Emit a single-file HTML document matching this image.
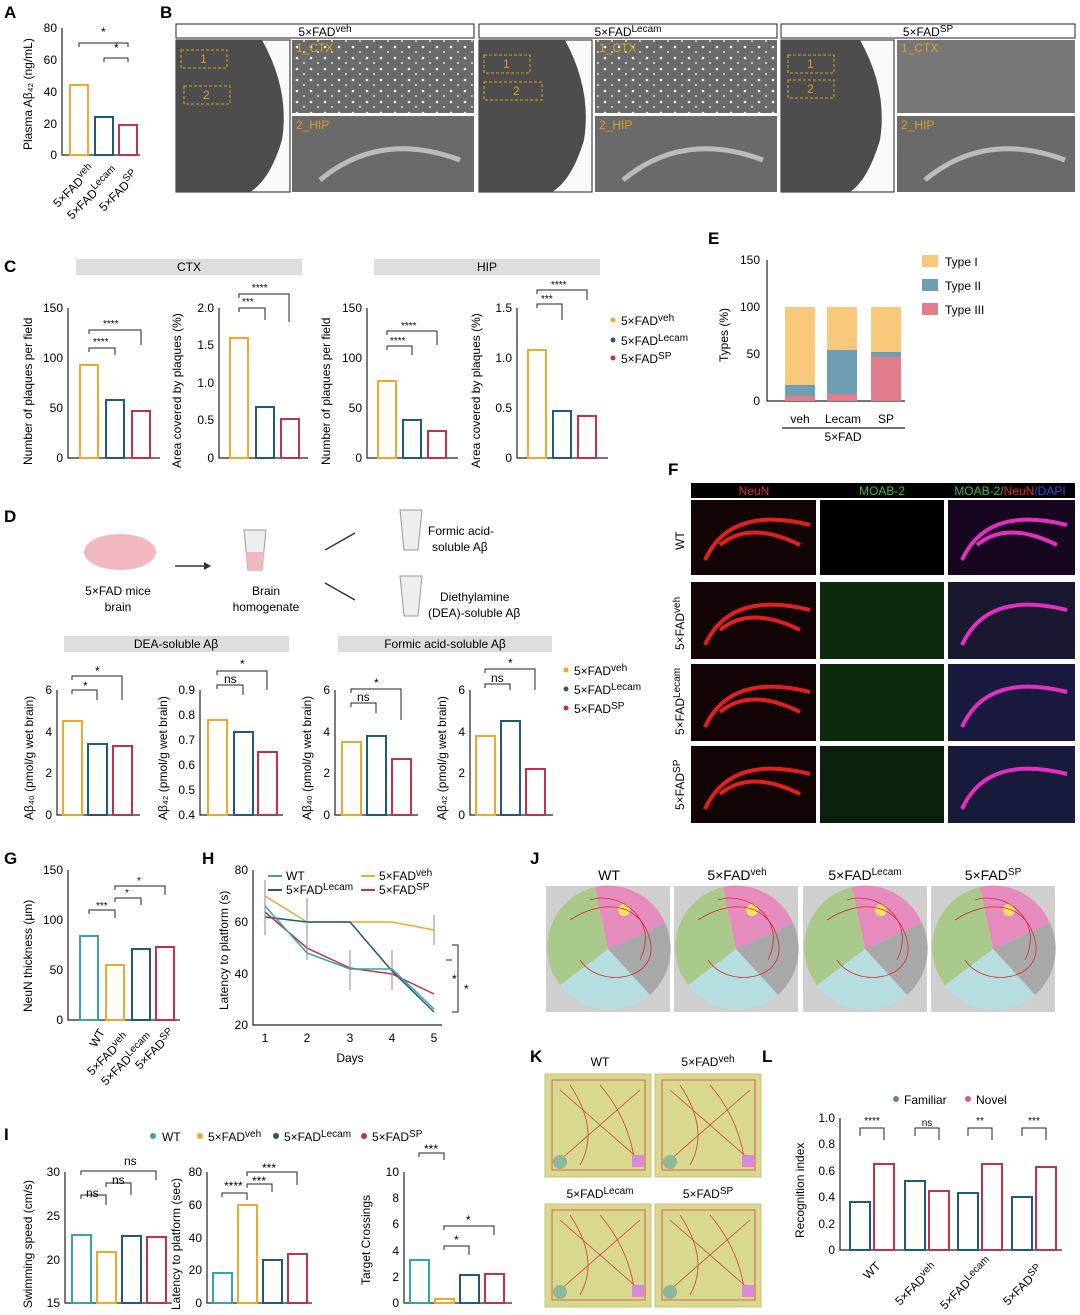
<!DOCTYPE html>
<html><head><meta charset="utf-8"><style>
body{margin:0;background:#fff}
svg{display:block;font-family:"Liberation Sans",sans-serif}
.L{font-size:17px;font-weight:bold}
.t{font-size:12px}
.s{font-size:10px}
.ax{stroke:#222;stroke-width:1.2;fill:none}
.bo{fill:none;stroke:#f0a82c;stroke-width:2}
.bb{fill:none;stroke:#1f5a7a;stroke-width:2}
.br{fill:none;stroke:#c0314a;stroke-width:2}
.bt{fill:none;stroke:#36a3ad;stroke-width:2}
.hd{fill:#ddd}
.mic{fill:#6a6a6a}
.ov{fill:#4d4d4d}
.sig{stroke:#222;fill:none;stroke-width:1}
</style></head><body>
<svg width="1080" height="1315" viewBox="0 0 1080 1315">
<defs><pattern id="dots" width="14" height="11" patternUnits="userSpaceOnUse"><rect width="14" height="11" fill="#6a6a6a"/><circle cx="3" cy="3" r="1.3" fill="#eee"/><circle cx="10" cy="8" r="1" fill="#ddd"/></pattern></defs>
<!-- A -->
<text x="4" y="18" class="L">A</text>
<path class="ax" d="M62 28V155H140"/>
<g class="t" text-anchor="end"><text x="57" y="32">80</text><text x="57" y="64">60</text><text x="57" y="96">40</text><text x="57" y="128">20</text><text x="57" y="159">0</text></g>
<rect class="bo" x="70" y="85" width="18" height="70"/><rect class="bb" x="95" y="117" width="18" height="38"/><rect class="br" x="119" y="125" width="18" height="30"/>
<path class="sig" d="M79 47V43H128V47M104 62V58H128V62"/><text x="101" y="36" class="t">*</text><text x="114" y="52" class="t">*</text>
<text transform="translate(32,150) rotate(-90)" class="t">Plasma Aβ₄₂ (ng/mL)</text>
<g class="t"><text transform="translate(58,208) rotate(-45)">5×FAD<tspan class="s" dy="-5">veh</tspan></text><text transform="translate(72,220) rotate(-45)">5×FAD<tspan class="s" dy="-5">Lecam</tspan></text><text transform="translate(104,212) rotate(-45)">5×FAD<tspan class="s" dy="-5">SP</tspan></text></g>
<!-- B -->
<text x="160" y="18" class="L">B</text>
<g>
<rect x="176" y="24" width="298" height="14" fill="#fff" stroke="#222"/><text x="325" y="36" class="t" text-anchor="middle">5×FAD<tspan class="s" dy="-4">veh</tspan></text>
<rect x="176" y="40" width="114" height="152" fill="#fafafa" stroke="#222"/><path class="ov" d="M176 40H262Q290 90 282 140Q270 180 250 192H176Z"/><rect x="292" y="40" width="182" height="73" fill="url(#dots)"/><rect class="mic" x="292" y="116" width="182" height="76"/>
<rect x="479" y="24" width="298" height="14" fill="#fff" stroke="#222"/><text x="628" y="36" class="t" text-anchor="middle">5×FAD<tspan class="s" dy="-4">Lecam</tspan></text>
<rect x="479" y="40" width="113" height="152" fill="#fafafa" stroke="#222"/><path class="ov" d="M479 40H565Q592 90 584 140Q572 180 552 192H479Z"/><rect x="595" y="40" width="182" height="73" fill="url(#dots)"/><rect class="mic" x="595" y="116" width="182" height="76"/>
<rect x="781" y="24" width="294" height="14" fill="#fff" stroke="#222"/><text x="928" y="36" class="t" text-anchor="middle">5×FAD<tspan class="s" dy="-4">SP</tspan></text>
<rect x="781" y="40" width="113" height="152" fill="#fafafa" stroke="#222"/><path class="ov" d="M781 40H860Q888 90 880 140Q868 180 850 192H781Z"/><rect x="897" y="40" width="178" height="73" fill="#777"/><rect class="mic" x="897" y="116" width="178" height="76" fill="#737373"/>
<g fill="none" stroke="#bbb" stroke-width="5"><path d="M320 180Q380 130 460 160"/><path d="M623 180Q683 130 763 160"/><path d="M925 180Q985 130 1065 160"/></g>
<g fill="none" stroke="#d9a21f" stroke-dasharray="3,2"><rect x="181" y="50" width="46" height="18"/><rect x="184" y="86" width="46" height="18"/><rect x="484" y="55" width="46" height="18"/><rect x="484" y="82" width="58" height="18"/><rect x="788" y="55" width="46" height="18"/><rect x="788" y="80" width="46" height="18"/></g>
<g class="t" fill="#d9a21f"><text x="200" y="63">1</text><text x="203" y="99">2</text><text x="503" y="68">1</text><text x="513" y="95">2</text><text x="807" y="68">1</text><text x="807" y="93">2</text><text x="296" y="52">1_CTX</text><text x="296" y="129">2_HIP</text><text x="599" y="52">1_CTX</text><text x="599" y="129">2_HIP</text><text x="901" y="52">1_CTX</text><text x="901" y="129">2_HIP</text></g>
</g>
<!-- C -->
<text x="4" y="272" class="L">C</text>
<rect class="hd" x="76" y="259" width="226" height="16"/><text x="189" y="271" class="t" text-anchor="middle">CTX</text>
<rect class="hd" x="374" y="259" width="226" height="16"/><text x="487" y="271" class="t" text-anchor="middle">HIP</text>
<path class="ax" d="M68 308V458H160M219 308V458H308M367 308V458H458M517 308V458H608"/>
<g class="t" text-anchor="end">
<text x="63" y="312">150</text><text x="63" y="362">100</text><text x="63" y="412">50</text><text x="63" y="462">0</text>
<text x="214" y="312">2.0</text><text x="214" y="349">1.5</text><text x="214" y="387">1.0</text><text x="214" y="424">0.5</text><text x="214" y="462">0</text>
<text x="362" y="312">150</text><text x="362" y="362">100</text><text x="362" y="412">50</text><text x="362" y="462">0</text>
<text x="512" y="312">1.5</text><text x="512" y="362">1.0</text><text x="512" y="412">0.5</text><text x="512" y="462">0</text></g>
<rect class="bo" x="80" y="365" width="18" height="93"/><rect class="bb" x="106" y="400" width="18" height="58"/><rect class="br" x="132" y="411" width="18" height="47"/>
<rect class="bo" x="230" y="338" width="18" height="120"/><rect class="bb" x="256" y="407" width="18" height="51"/><rect class="br" x="281" y="419" width="18" height="39"/>
<rect class="bo" x="378" y="381" width="18" height="77"/><rect class="bb" x="403" y="420" width="18" height="38"/><rect class="br" x="428" y="431" width="18" height="27"/>
<rect class="bo" x="528" y="350" width="18" height="108"/><rect class="bb" x="553" y="411" width="18" height="47"/><rect class="br" x="578" y="416" width="18" height="42"/>
<path class="sig" d="M89 334V330H141V345M89 352V348H115V355M239 298V294H289V322M239 312V308H265V320M387 335V331H437V345M387 350V346H412V355M537 294V290H587V300M537 308V304H562V320"/>
<g class="s"><text x="103" y="327">****</text><text x="93" y="345">****</text><text x="252" y="291">****</text><text x="242" y="305">***</text><text x="401" y="329">****</text><text x="390" y="344">****</text><text x="551" y="288">****</text><text x="541" y="302">***</text></g>
<g class="t"><text transform="translate(32,465) rotate(-90)">Number of plaques per field</text><text transform="translate(181,468) rotate(-90)">Area covered by plaques (%)</text><text transform="translate(330,465) rotate(-90)">Number of plaques per field</text><text transform="translate(480,468) rotate(-90)">Area covered by plaques (%)</text></g>
<g class="t"><circle cx="613" cy="320" r="2.5" fill="#f0a82c"/><text x="621" y="325">5×FAD<tspan class="s" dy="-4">veh</tspan></text><circle cx="613" cy="340" r="2.5" fill="#1f5a7a"/><text x="621" y="345">5×FAD<tspan class="s" dy="-4">Lecam</tspan></text><circle cx="613" cy="358" r="2.5" fill="#c0314a"/><text x="621" y="363">5×FAD<tspan class="s" dy="-4">SP</tspan></text></g>
<!-- E -->
<text x="708" y="244" class="L">E</text>
<path class="ax" d="M767 260V401H905"/>
<g class="t" text-anchor="end"><text x="760" y="264">150</text><text x="760" y="311">100</text><text x="760" y="358">50</text><text x="760" y="405">0</text></g>
<rect x="785" y="307" width="30" height="78" fill="#f8c97a"/><rect x="785" y="385" width="30" height="11" fill="#6f9eb3"/><rect x="785" y="396" width="30" height="5" fill="#e27d8c"/>
<rect x="827" y="307" width="30" height="43" fill="#f8c97a"/><rect x="827" y="350" width="30" height="44" fill="#6f9eb3"/><rect x="827" y="394" width="30" height="7" fill="#e27d8c"/>
<rect x="871" y="307" width="30" height="45" fill="#f8c97a"/><rect x="871" y="352" width="30" height="5" fill="#6f9eb3"/><rect x="871" y="357" width="30" height="44" fill="#e27d8c"/>
<path class="ax" d="M782 428H905"/>
<g class="t" text-anchor="middle"><text x="800" y="423">veh</text><text x="843" y="423">Lecam</text><text x="886" y="423">SP</text><text x="843" y="441">5×FAD</text></g>
<text transform="translate(728,362) rotate(-90)" class="t">Types (%)</text>
<g class="t"><rect x="922" y="255" width="16" height="12" fill="#f8c97a"/><text x="945" y="266">Type I</text><rect x="922" y="279" width="16" height="12" fill="#6f9eb3"/><text x="945" y="290">Type II</text><rect x="922" y="303" width="16" height="12" fill="#e27d8c"/><text x="945" y="314">Type III</text></g>
<!-- D -->
<text x="4" y="522" class="L">D</text>
<ellipse cx="120" cy="552" rx="36" ry="18" fill="#f2b8c0"/>
<text x="118" y="595" class="t" text-anchor="middle">5×FAD mice</text><text x="118" y="611" class="t" text-anchor="middle">brain</text>
<path d="M175 566H210" stroke="#333" stroke-width="1.5"/><path d="M204 562L211 566L204 570" fill="#333"/>
<path d="M244 530h22l-4 40h-14z" fill="#eee" stroke="#999"/><path d="M246 552h18l-2 18h-14z" fill="#f2b8c0"/>
<text x="266" y="595" class="t" text-anchor="middle">Brain</text><text x="266" y="611" class="t" text-anchor="middle">homogenate</text>
<path d="M325 550L355 533M325 583L355 600" stroke="#333" stroke-width="1.5"/>
<path d="M400 510h22l-4 40h-14z" fill="#eee" stroke="#999"/><path d="M400 576h22l-4 40h-14z" fill="#eee" stroke="#999"/>
<g class="t"><text x="428" y="535">Formic acid-</text><text x="432" y="551">soluble Aβ</text><text x="440" y="601">Diethylamine</text><text x="428" y="617">(DEA)-soluble Aβ</text></g>
<rect class="hd" x="64" y="636" width="225" height="16"/><text x="176" y="648" class="t" text-anchor="middle">DEA-soluble Aβ</text>
<rect class="hd" x="338" y="636" width="214" height="16"/><text x="445" y="648" class="t" text-anchor="middle">Formic acid-soluble Aβ</text>
<path class="ax" d="M57 690V815H140M200 690V815H283M335 690V815H418M470 690V815H553"/>
<g class="t" text-anchor="end">
<text x="52" y="694">6</text><text x="52" y="736">4</text><text x="52" y="777">2</text><text x="52" y="819">0</text>
<text x="195" y="694">0.9</text><text x="195" y="719">0.8</text><text x="195" y="744">0.7</text><text x="195" y="769">0.6</text><text x="195" y="794">0.5</text><text x="195" y="819">0.4</text>
<text x="330" y="694">6</text><text x="330" y="736">4</text><text x="330" y="777">2</text><text x="330" y="819">0</text>
<text x="465" y="694">6</text><text x="465" y="736">4</text><text x="465" y="777">2</text><text x="465" y="819">0</text></g>
<rect class="bo" x="63" y="721" width="19" height="94"/><rect class="bb" x="88" y="744" width="19" height="71"/><rect class="br" x="113" y="746" width="19" height="69"/>
<rect class="bo" x="208" y="720" width="19" height="95"/><rect class="bb" x="234" y="732" width="19" height="83"/><rect class="br" x="258" y="752" width="19" height="63"/>
<rect class="bo" x="342" y="742" width="19" height="73"/><rect class="bb" x="367" y="736" width="19" height="79"/><rect class="br" x="392" y="759" width="19" height="56"/>
<rect class="bo" x="476" y="736" width="19" height="79"/><rect class="bb" x="501" y="721" width="19" height="94"/><rect class="br" x="526" y="769" width="19" height="46"/>
<path class="sig" d="M72 680V676H122V700M72 694V690H97V700M217 675V671H267V690M217 689V685H243V695M351 693V689H401V720M351 707V703H376V713M485 673V669H535V690M485 688V684H510V690"/>
<g class="t"><text x="95" y="675">*</text><text x="83" y="690">*</text><text x="240" y="668">*</text><text x="224" y="683">ns</text><text x="374" y="687">*</text><text x="357" y="701">ns</text><text x="508" y="667">*</text><text x="491" y="682">ns</text></g>
<g class="t"><text transform="translate(33,820) rotate(-90)">Aβ₄₀ (pmol/g wet brain)</text><text transform="translate(167,820) rotate(-90)">Aβ₄₂ (pmol/g wet brain)</text><text transform="translate(311,820) rotate(-90)">Aβ₄₀ (pmol/g wet brain)</text><text transform="translate(446,820) rotate(-90)">Aβ₄₂ (pmol/g wet brain)</text></g>
<g class="t"><circle cx="566" cy="670" r="2.5" fill="#f0a82c"/><text x="574" y="675">5×FAD<tspan class="s" dy="-4">veh</tspan></text><circle cx="566" cy="689" r="2.5" fill="#1f5a7a"/><text x="574" y="694">5×FAD<tspan class="s" dy="-4">Lecam</tspan></text><circle cx="566" cy="708" r="2.5" fill="#c0314a"/><text x="574" y="713">5×FAD<tspan class="s" dy="-4">SP</tspan></text></g>
<!-- F -->
<text x="668" y="475" class="L">F</text>
<rect x="691" y="483" width="384" height="15" fill="#000"/>
<g class="t" text-anchor="middle"><text x="754" y="495" fill="#e0302c">NeuN</text><text x="882" y="495" fill="#3fbf3f">MOAB-2</text><text x="1010" y="495" fill="#3fbf3f">MOAB-2/<tspan fill="#e0302c">NeuN</tspan><tspan fill="#3050e0">/DAPI</tspan></text></g>
<g>
<rect x="691" y="500" width="125" height="75" fill="#120404"/><rect x="820" y="500" width="124" height="75" fill="#000"/><rect x="948" y="500" width="127" height="75" fill="#160620"/>
<rect x="691" y="582" width="125" height="77" fill="#120404"/><rect x="820" y="582" width="124" height="77" fill="#0c2a0c"/><rect x="948" y="582" width="127" height="77" fill="#1a1830"/>
<rect x="691" y="664" width="125" height="77" fill="#120404"/><rect x="820" y="664" width="124" height="77" fill="#0c2a0c"/><rect x="948" y="664" width="127" height="77" fill="#1a1a40"/>
<rect x="691" y="746" width="125" height="77" fill="#120404"/><rect x="820" y="746" width="124" height="77" fill="#0a200a"/><rect x="948" y="746" width="127" height="77" fill="#181a3a"/></g>
<g fill="none" stroke="#e02020" stroke-width="4"><path d="M705 560Q730 505 810 525M720 545Q750 520 800 545"/><path d="M705 645Q730 590 810 610M720 630Q750 605 800 630"/><path d="M705 727Q730 672 810 692M720 712Q750 687 800 712"/><path d="M705 809Q730 754 810 774M720 794Q750 769 800 794"/></g>
<g fill="none" stroke="#e030c0" stroke-width="4"><path d="M962 560Q987 505 1067 525M977 545Q1007 520 1057 545"/><path d="M962 645Q987 590 1067 610"/><path d="M962 727Q987 672 1067 692"/><path d="M962 809Q987 754 1067 774"/></g>
<g class="t"><text transform="translate(684,550) rotate(-90)">WT</text><text transform="translate(684,650) rotate(-90)">5×FAD<tspan class="s" dy="-4">veh</tspan></text><text transform="translate(684,735) rotate(-90)">5×FAD<tspan class="s" dy="-4">Lecam</tspan></text><text transform="translate(684,810) rotate(-90)">5×FAD<tspan class="s" dy="-4">SP</tspan></text></g>
<!-- G -->
<text x="4" y="864" class="L">G</text>
<path class="ax" d="M68 870V1020H180"/>
<g class="t" text-anchor="end"><text x="63" y="874">150</text><text x="63" y="924">100</text><text x="63" y="974">50</text><text x="63" y="1024">0</text></g>
<rect class="bt" x="80" y="936" width="18" height="84"/><rect class="bo" x="106" y="965" width="18" height="55"/><rect class="bb" x="132" y="949" width="18" height="71"/><rect class="br" x="156" y="947" width="18" height="73"/>
<path class="sig" d="M89 914V910H115V918M115 890V886H165V895M115 902V898H141V905"/>
<g class="s"><text x="96" y="909">***</text><text x="137" y="884">*</text><text x="125" y="896">*</text></g>
<text transform="translate(32,1012) rotate(-90)" class="t">NeuN thickness (μm)</text>
<g class="t"><text transform="translate(96,1048) rotate(-60)">WT</text><text transform="translate(92,1076) rotate(-45)">5×FAD<tspan class="s" dy="-4">veh</tspan></text><text transform="translate(106,1086) rotate(-45)">5×FAD<tspan class="s" dy="-4">Lecam</tspan></text><text transform="translate(140,1070) rotate(-45)">5×FAD<tspan class="s" dy="-4">SP</tspan></text></g>
<!-- H -->
<text x="202" y="864" class="L">H</text>
<path class="ax" d="M253 870V1025H442"/>
<g class="t" text-anchor="end"><text x="248" y="874">80</text><text x="248" y="926">60</text><text x="248" y="978">40</text><text x="248" y="1029">20</text></g>
<g class="t" text-anchor="middle"><text x="265" y="1042">1</text><text x="307" y="1042">2</text><text x="350" y="1042">3</text><text x="392" y="1042">4</text><text x="434" y="1042">5</text><text x="350" y="1062">Days</text></g>
<text transform="translate(228,1010) rotate(-90)" class="t">Latency to platform (s)</text>
<g fill="none" stroke-width="1.5">
<polyline stroke="#f0a82c" points="265,896 307,922 350,922 392,922 434,930"/>
<polyline stroke="#1f5a7a" points="265,917 307,922 350,922 392,971 434,1012"/>
<polyline stroke="#c0314a" points="265,912 307,948 350,968 392,974 434,994"/>
<polyline stroke="#36a3ad" points="265,906 307,953 350,969 392,969 434,1009"/></g>
<g stroke-width="1"><path d="M265 880V935M307 898V960M350 950V990M392 950V990M434 915V945" stroke="#888"/></g>
<path class="sig" d="M452 945H458V1012H452M446 960H452"/><text x="452" y="983" class="t">*</text><text x="464" y="993" class="t">*</text>
<g class="t"><line x1="268" y1="876" x2="282" y2="876" stroke="#36a3ad" stroke-width="2"/><text x="286" y="880">WT</text><line x1="268" y1="890" x2="282" y2="890" stroke="#1f5a7a" stroke-width="2"/><text x="286" y="894">5×FAD<tspan class="s" dy="-4">Lecam</tspan></text><line x1="361" y1="876" x2="375" y2="876" stroke="#f0a82c" stroke-width="2"/><text x="379" y="880">5×FAD<tspan class="s" dy="-4">veh</tspan></text><line x1="361" y1="890" x2="375" y2="890" stroke="#c0314a" stroke-width="2"/><text x="379" y="894">5×FAD<tspan class="s" dy="-4">SP</tspan></text></g>
<!-- J -->
<text x="530" y="864" class="L">J</text>
<g class="t" text-anchor="middle" style="font-size:14px"><text x="609" y="880">WT</text><text x="737" y="880">5×FAD<tspan class="s" dy="-5">veh</tspan></text><text x="865" y="880">5×FAD<tspan class="s" dy="-5">Lecam</tspan></text><text x="993" y="880">5×FAD<tspan class="s" dy="-5">SP</tspan></text></g>
<g id="pool">
<rect x="546" y="886" width="124" height="126" fill="#cfcfcf"/>
<path d="M608 949L595 887A62 62 0 0 1 665 923Z" fill="#e68bbd"/><path d="M608 949L665 923A62 62 0 0 1 650 995Z" fill="#a8a8a8"/><path d="M608 949L650 995A62 62 0 0 1 560 985Z" fill="#b6dde0"/><path d="M608 949L560 985A62 62 0 0 1 595 887Z" fill="#a9c98a"/>
<circle cx="624" cy="910" r="6" fill="#f3e06a"/><path d="M570 920C600 900 640 900 650 940S600 990 580 960M590 900C620 890 660 920 640 960" fill="none" stroke="#d03030" stroke-width="0.8"/>
</g>
<use href="#pool" x="128"/><use href="#pool" x="257"/><use href="#pool" x="385"/>
<!-- K -->
<text x="530" y="1062" class="L">K</text>
<g class="t" text-anchor="middle"><text x="600" y="1066">WT</text><text x="708" y="1066">5×FAD<tspan class="s" dy="-4">veh</tspan></text><text x="600" y="1198">5×FAD<tspan class="s" dy="-4">Lecam</tspan></text><text x="708" y="1198">5×FAD<tspan class="s" dy="-4">SP</tspan></text></g>
<g id="box"><rect x="545" y="1074" width="106" height="103" fill="#d8d88e" stroke="#c4c47a"/><path d="M552 1080H645V1170H552Z M560 1090L640 1160M560 1160L640 1090M570 1085Q600 1130 580 1165M600 1085Q630 1120 635 1165" fill="none" stroke="#d04040" stroke-width="0.8"/><circle cx="560" cy="1162" r="7" fill="#8bb89a"/><rect x="632" y="1155" width="12" height="12" fill="#d88ad8"/></g>
<use href="#box" x="110"/><use href="#box" y="130"/><use href="#box" x="110" y="130"/>
<!-- L -->
<text x="762" y="1062" class="L">L</text>
<g class="t"><circle cx="896" cy="1099" r="3" fill="#5a8a9a"/><text x="904" y="1104">Familiar</text><circle cx="968" cy="1099" r="3" fill="#d06080"/><text x="976" y="1104">Novel</text></g>
<path class="ax" d="M840 1118V1250H1062"/>
<g class="t" text-anchor="end"><text x="835" y="1122">1.0</text><text x="835" y="1148">0.8</text><text x="835" y="1175">0.6</text><text x="835" y="1201">0.4</text><text x="835" y="1228">0.2</text><text x="835" y="1254">0</text></g>
<rect class="bb" x="850" y="1202" width="20" height="48"/><rect class="br" x="874" y="1164" width="20" height="86"/>
<rect class="bb" x="905" y="1181" width="20" height="69"/><rect class="br" x="929" y="1191" width="20" height="59"/>
<rect class="bb" x="958" y="1193" width="20" height="57"/><rect class="br" x="982" y="1164" width="20" height="86"/>
<rect class="bb" x="1012" y="1197" width="20" height="53"/><rect class="br" x="1036" y="1167" width="20" height="83"/>
<path class="sig" d="M860 1136V1128H884V1140M915 1136V1128H939V1140M968 1136V1128H992V1140M1022 1136V1128H1046V1140"/>
<g class="s" text-anchor="middle"><text x="872" y="1124">****</text><text x="927" y="1126">ns</text><text x="980" y="1124">**</text><text x="1034" y="1124">***</text></g>
<text transform="translate(804,1238) rotate(-90)" class="t">Recognition index</text>
<g class="t"><text transform="translate(868,1280) rotate(-45)">WT</text><text transform="translate(900,1306) rotate(-45)">5×FAD<tspan class="s" dy="-4">veh</tspan></text><text transform="translate(945,1310) rotate(-45)">5×FAD<tspan class="s" dy="-4">Lecam</tspan></text><text transform="translate(1008,1306) rotate(-45)">5×FAD<tspan class="s" dy="-4">SP</tspan></text></g>
<!-- I -->
<text x="4" y="1140" class="L">I</text>
<g class="t"><circle cx="153" cy="1136" r="3" fill="#36a3ad"/><text x="162" y="1141">WT</text><circle cx="200" cy="1136" r="3" fill="#f0a82c"/><text x="208" y="1141">5×FAD<tspan class="s" dy="-4">veh</tspan></text><circle cx="276" cy="1136" r="3" fill="#1f5a7a"/><text x="284" y="1141">5×FAD<tspan class="s" dy="-4">Lecam</tspan></text><circle cx="364" cy="1136" r="3" fill="#c0314a"/><text x="372" y="1141">5×FAD<tspan class="s" dy="-4">SP</tspan></text></g>
<path class="ax" d="M65 1172V1303H172M207 1172V1303H312M404 1172V1303H512"/>
<g class="t" text-anchor="end">
<text x="60" y="1176">30</text><text x="60" y="1220">25</text><text x="60" y="1264">20</text><text x="60" y="1307">15</text>
<text x="202" y="1176">80</text><text x="202" y="1209">60</text><text x="202" y="1242">40</text><text x="202" y="1274">20</text><text x="202" y="1307">0</text>
<text x="399" y="1176">10</text><text x="399" y="1202">8</text><text x="399" y="1228">6</text><text x="399" y="1255">4</text><text x="399" y="1281">2</text><text x="399" y="1307">0</text></g>
<rect class="bt" x="72" y="1235" width="19" height="68"/><rect class="bo" x="97" y="1252" width="19" height="51"/><rect class="bb" x="122" y="1236" width="19" height="67"/><rect class="br" x="147" y="1237" width="19" height="66"/>
<rect class="bt" x="213" y="1273" width="19" height="30"/><rect class="bo" x="238" y="1205" width="19" height="98"/><rect class="bb" x="263" y="1260" width="19" height="43"/><rect class="br" x="288" y="1254" width="19" height="49"/>
<rect class="bt" x="410" y="1260" width="19" height="43"/><rect class="bo" x="435" y="1299" width="19" height="4"/><rect class="bb" x="460" y="1275" width="19" height="28"/><rect class="br" x="485" y="1274" width="19" height="29"/>
<path class="sig" d="M81 1175V1171H156V1180M81 1199V1195H106V1205M106 1187V1183H131V1195M222 1197V1193H247V1200M247 1176V1172H297V1185M247 1188V1184H272V1192M419 1157V1153H444V1160M444 1230V1226H494V1235M444 1250V1246H469V1255"/>
<g class="t"><text x="124" y="1165">ns</text><text x="86" y="1197">ns</text><text x="112" y="1184">ns</text><text x="224" y="1190">****</text><text x="262" y="1172">***</text><text x="252" y="1185">***</text><text x="424" y="1153">***</text><text x="466" y="1224">*</text><text x="454" y="1244">*</text></g>
<g class="t"><text transform="translate(32,1308) rotate(-90)">Swimming speed (cm/s)</text><text transform="translate(180,1310) rotate(-90)">Latency to platform (sec)</text><text transform="translate(370,1285) rotate(-90)">Target Crossings</text></g>
</svg>
</body></html>
